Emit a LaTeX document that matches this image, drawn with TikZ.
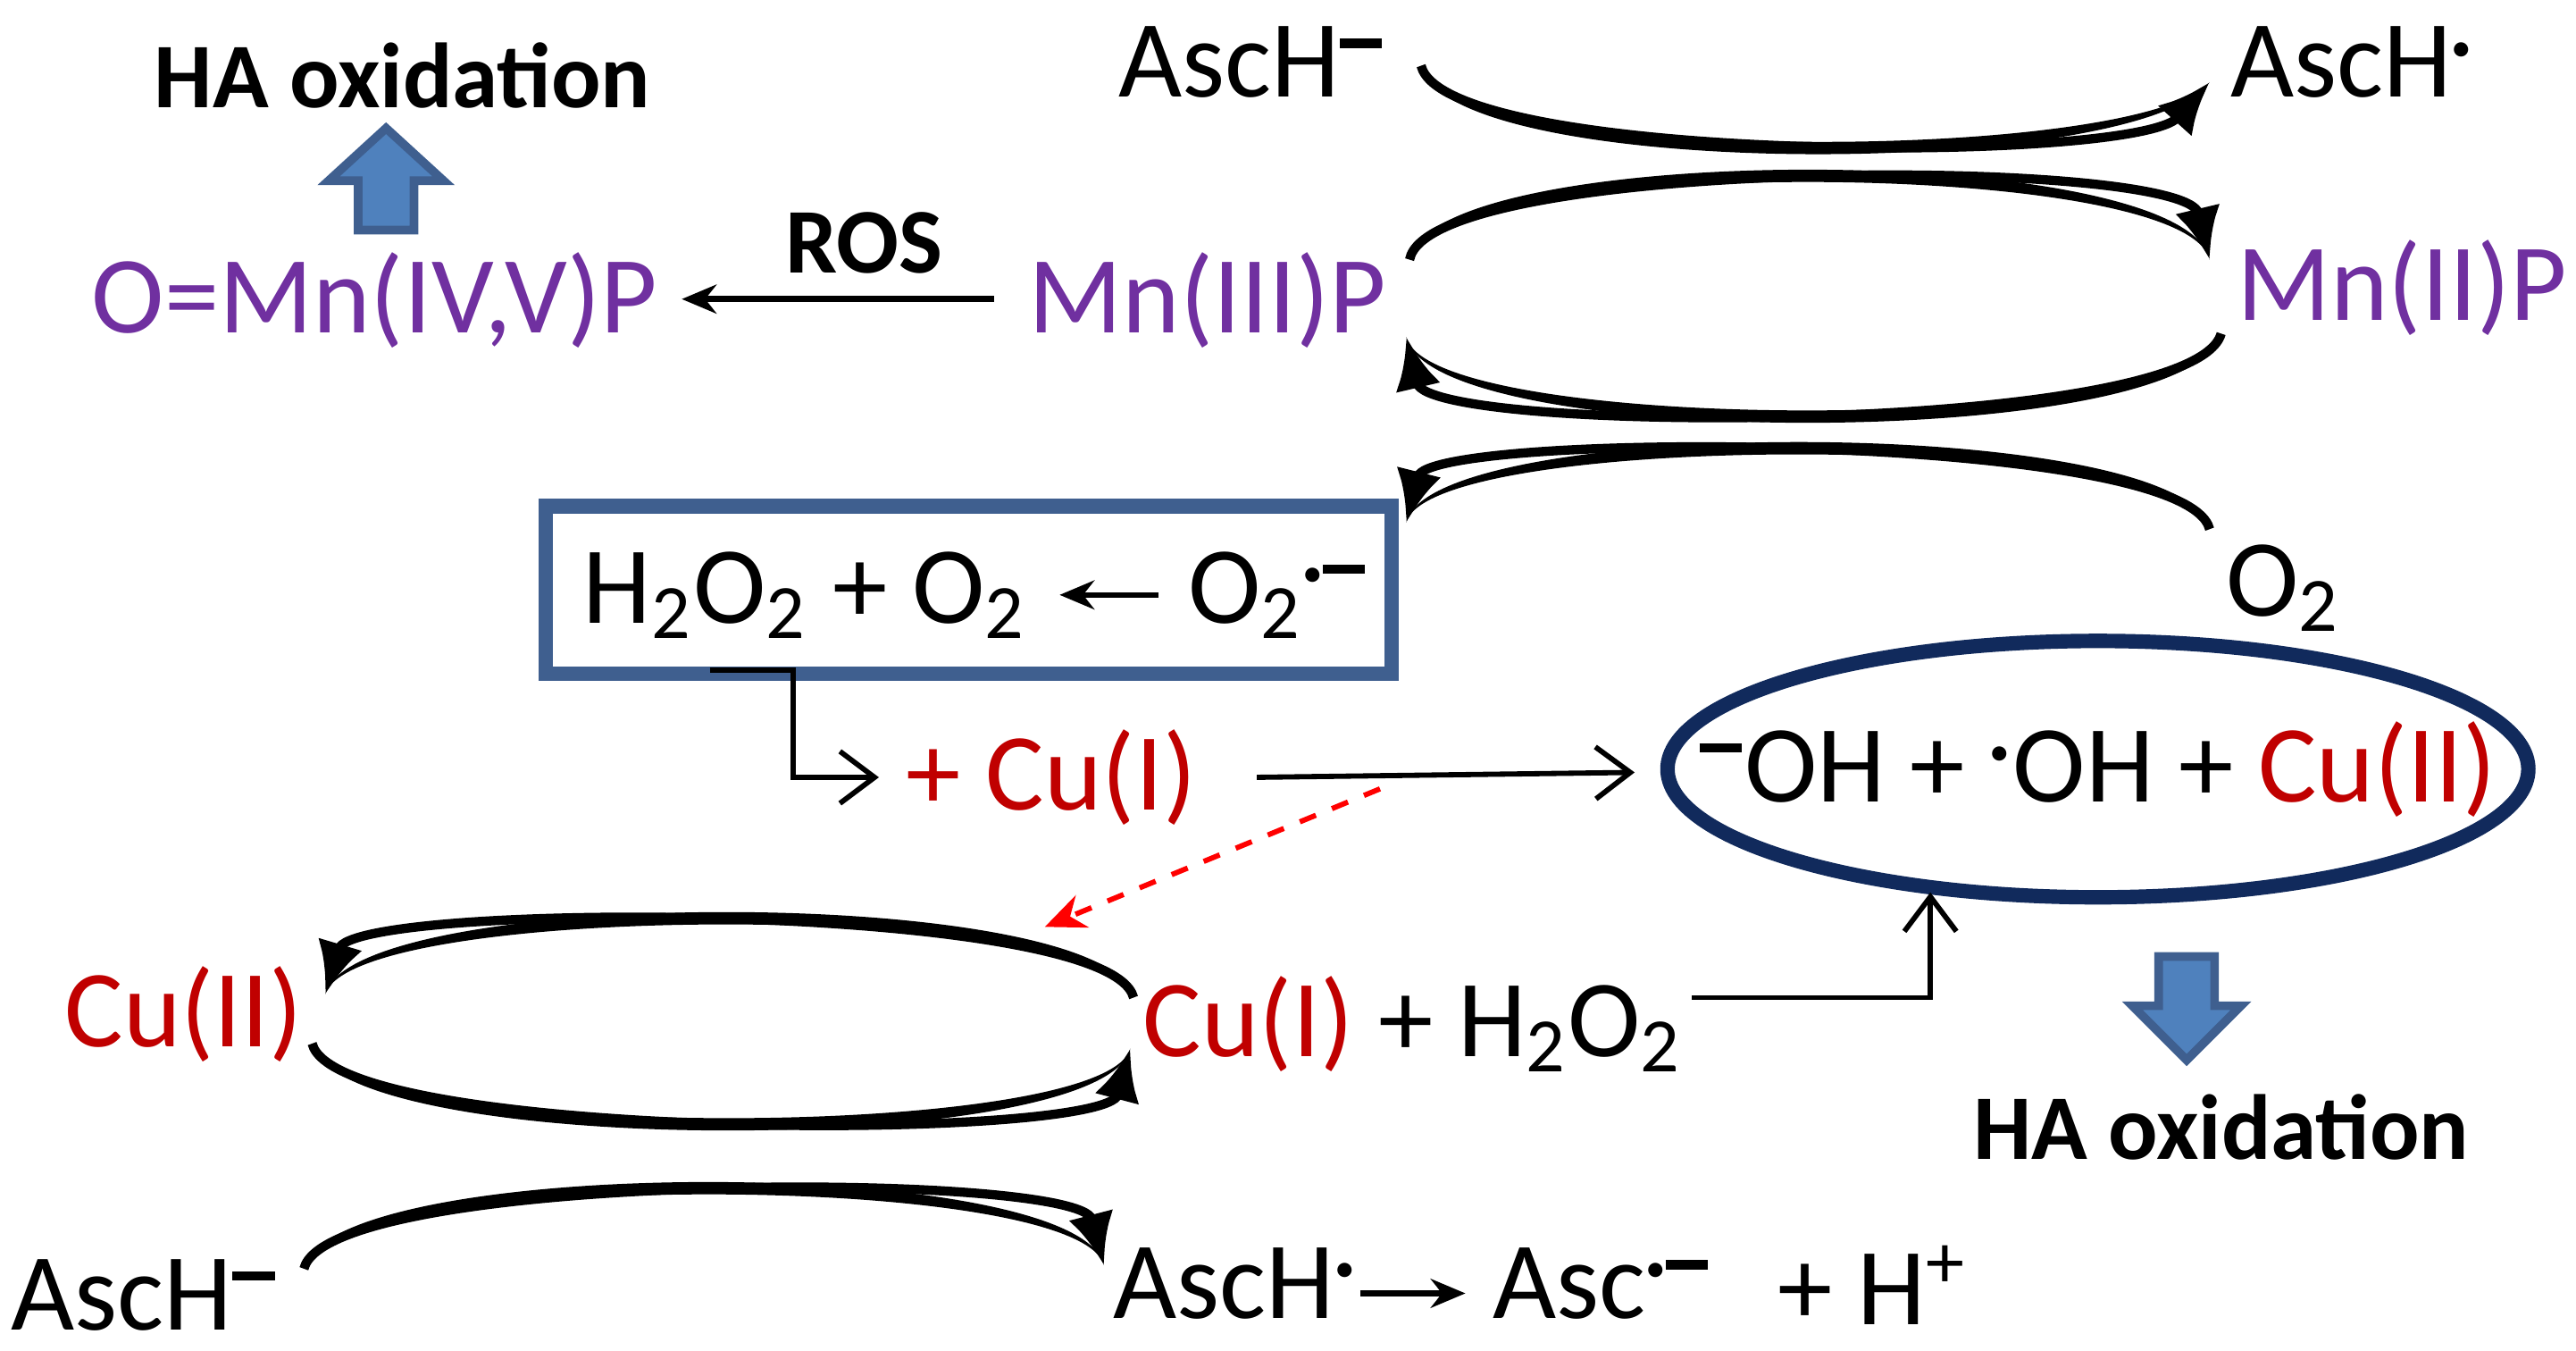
\documentclass[tikz,border=0pt]{standalone}
\usepackage{fontspec}
\setmainfont{Carlito}
\usetikzlibrary{arrows.meta,calc}
\definecolor{pur}{HTML}{7030A0}
\definecolor{cred}{HTML}{C00000}
\definecolor{bbox}{HTML}{3F5F8F}
\definecolor{navy}{HTML}{112A5C}
\definecolor{ablue}{HTML}{4F81BD}
\newcommand{\rad}{\textsuperscript{\scriptsize\textbullet}}
\newcommand{\mns}{\textsuperscript{\textbf{\rule[0.35ex]{0.55em}{0.12em}}}}
\newcommand{\radm}{\textsuperscript{{\scriptsize\textbullet}\rule[0.35ex]{0.55em}{0.12em}}}
\newcommand{\cres}[6]{% start c1 c2 end offx offy
  \fill (#1) .. controls (#2) and (#3) .. (#4) .. controls ($(#3)+(#5,#6)$) and ($(#2)+(#5,#6)$) .. (#1);
  \draw[line width=1.6pt,-{Latex[length=9pt,width=8pt]}] (#1) .. controls (#2) and (#3) .. (#4);}
\tikzset{
  t/.style={font=\fontsize{19}{23}\selectfont,inner sep=0pt},
  hb/.style={font=\fontsize{16}{19}\selectfont\bfseries,inner sep=0pt},
  thin/.style={line width=0.9pt,-{Straight Barb[length=6pt,width=9pt]}},
  st/.style={line width=1pt,-{Stealth[length=6pt,width=5pt]}},
  bigarr/.style={fill=ablue,draw=bbox,line width=1.5pt,line join=miter}
}
\begin{document}
\begin{tikzpicture}[x=0.01cm,y=-0.01cm]
\useasboundingbox (0,0) rectangle (1568,822);
% top
\node[t] (asc1) at (762,38) {AscH\mns};
\node[t] (asc2) at (1432,38) {AscH\rad};
\node[t,text=pur] (mn3) at (735,183) {Mn(III)P};
\node[t,text=pur] (mn2) at (1462,175) {Mn(II)P};
\node[t,text=pur] (omn) at (228,183) {O=Mn(IV,V)P};
\node[hb] (ros) at (526,148) {ROS};
\node[hb] (ha1) at (245,46) {HA oxidation};
\draw[bigarr] (218,140) -- (218,110) -- (200,110) -- (235,78) -- (270,110) -- (252,110) -- (252,140) -- cycle;
\node[t] (o2) at (1390,358) {O\textsubscript{2}};
\draw[st] (605,182) -- (415,182);

\cres{865,40}{880,100}{1300,100}{1345,50}{0}{10}
\cres{858,158}{870,95}{1330,95}{1345,158}{0}{-10}
\cres{1352,203}{1335,265}{870,265}{856,205}{0}{10}
\cres{1345,322}{1330,262}{870,262}{856,318}{0}{-10}

% box
\draw[bbox,line width=2.5pt] (332,308) rectangle (847,410);
\node[t] (h2o2) at (490,362) {H\textsubscript{2}O\textsubscript{2} + O\textsubscript{2}};
\node[t] (o2m) at (778,362) {O\textsubscript{2}\radm};
\draw[st] (705,362) -- (645,362);

\node[t,text=cred] (cu1a) at (640,473) {+ Cu(I)};
\draw[thin] (432,408) -- (483,408) -- (483,473) -- (535,473);
\draw[thin] (765,473) -- (995,470);
\draw[navy,line width=2.5pt] (1277,468) ellipse [x radius=262,y radius=78];
\node[t] (oh) at (1277,468) {\mns OH + \rad OH + \textcolor{cred}{Cu(II)}};
\draw[red,dashed,line width=0.9pt,-{Stealth[length=7pt,width=6pt]}] (840,480) -- (636,564);

% Cu cycle
\node[t,text=cred] (cu2) at (112,617) {Cu(II)};
\node[t] (cu1) at (860,623) {\textcolor{cred}{Cu(I)} + H\textsubscript{2}O\textsubscript{2}};
\cres{690,607}{675,548}{215,548}{198,605}{0}{-10}
\cres{190,635}{205,695}{673,695}{688,638}{0}{10}
\draw[thin] (1030,607) -- (1175,607) -- (1175,543);
\draw[bigarr] (1314,582) -- (1348,582) -- (1348,612) -- (1364,612) -- (1331,645) -- (1298,612) -- (1314,612) -- cycle;
\node[hb] (ha2) at (1352,686) {HA oxidation};

% bottom
\node[t] (asc3) at (88,788) {AscH\mns};
\node[t] (asc4) at (752,781) {AscH\rad};
\node[t] (asc5) at (975,781) {Asc\radm};
\node[t] (hp) at (1140,782) {+ H\textsuperscript{+}};
\draw[st] (828,787) -- (892,787);
\cres{185,772}{200,712}{657,712}{672,770}{0}{-10}
\end{tikzpicture}
\end{document}
